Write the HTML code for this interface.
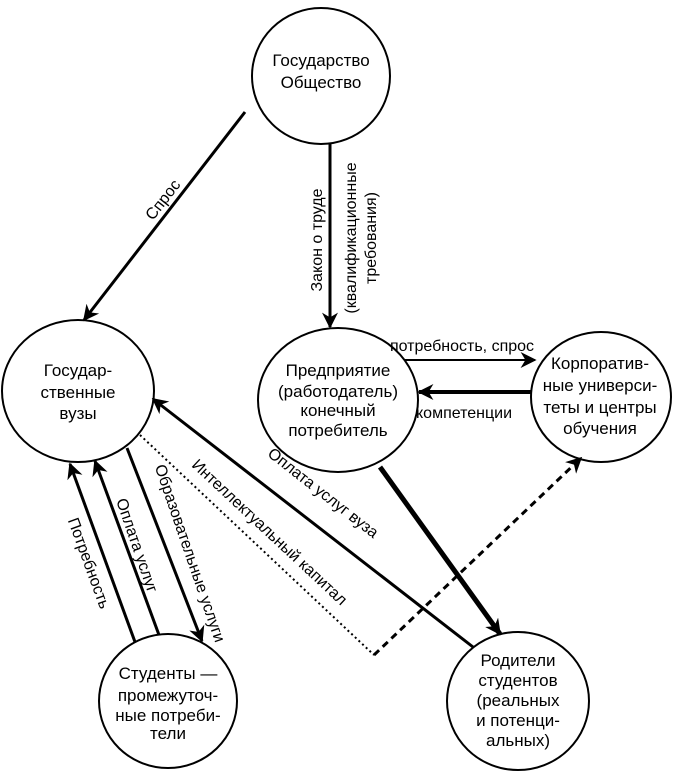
<!DOCTYPE html>
<html><head><meta charset="utf-8"><style>html,body{margin:0;padding:0;background:#fff}</style></head>
<body>
<svg width="674" height="778" viewBox="0 0 674 778" xmlns="http://www.w3.org/2000/svg" font-family="Liberation Sans, Arial, sans-serif" font-size="15" fill="#000">
<defs>
<marker id="b" viewBox="0 0 10 10" refX="9" refY="5" markerWidth="18" markerHeight="16" orient="auto" markerUnits="userSpaceOnUse"><path d="M0,0 L10,5 L0,10 L3,5 z"/></marker>
</defs>
<g fill="none" stroke="#000" stroke-width="2">
<ellipse cx="321" cy="76" rx="69" ry="68"/>
<ellipse cx="78" cy="391" rx="76" ry="71"/>
<ellipse cx="338" cy="400" rx="80" ry="72"/>
<ellipse cx="601" cy="397" rx="70" ry="65"/>
<ellipse cx="168" cy="701" rx="69" ry="67"/>
<ellipse cx="518" cy="701" rx="71" ry="69"/>
</g>
<g stroke="#000" fill="none">
<line x1="245" y1="112" x2="84" y2="320" stroke-width="3" marker-end="url(#b)"/>
<line x1="330" y1="143" x2="330" y2="327" stroke-width="3" marker-end="url(#b)"/>
<line x1="405" y1="360" x2="535" y2="360" stroke-width="2" marker-end="url(#b)"/>
<line x1="531" y1="392" x2="419" y2="392" stroke-width="4" marker-end="url(#b)"/>
<line x1="135" y1="642" x2="70" y2="464" stroke-width="3" marker-end="url(#b)"/>
<line x1="159" y1="635" x2="95" y2="461" stroke-width="3" marker-end="url(#b)"/>
<line x1="127" y1="448" x2="202" y2="641" stroke-width="3" marker-end="url(#b)"/>
<line x1="140" y1="435" x2="374" y2="655" stroke-width="2" stroke-dasharray="2,3"/>
<line x1="374" y1="655" x2="581" y2="458" stroke-width="3" stroke-dasharray="7,5" marker-end="url(#b)"/>
<line x1="473" y1="647" x2="153" y2="399" stroke-width="3" marker-end="url(#b)"/>
<line x1="380" y1="467" x2="500" y2="634" stroke-width="5" marker-end="url(#b)"/>
</g>
<g text-anchor="middle" font-size="17">
<text x="321" y="66">Государство</text>
<text x="321" y="88">Общество</text>
<text x="78" y="376">Государ-</text>
<text x="78" y="398">ственные</text>
<text x="78" y="419">вузы</text>
<text x="338" y="376">Предприятие</text>
<text x="338" y="397">(работодатель)</text>
<text x="338" y="416">конечный</text>
<text x="338" y="436">потребитель</text>
<text x="600" y="369">Корпоратив-</text>
<text x="600" y="391">ные универси-</text>
<text x="600" y="413">теты и центры</text>
<text x="600" y="434">обучения</text>
<text x="168" y="679">Студенты —</text>
<text x="168" y="701">промежуточ-</text>
<text x="168" y="721">ные потреби-</text>
<text x="168" y="739">тели</text>
<text x="518" y="666">Родители</text>
<text x="518" y="686">студентов</text>
<text x="518" y="706">(реальных</text>
<text x="518" y="726">и потенци-</text>
<text x="518" y="746">альных)</text>
</g>
<g text-anchor="middle" font-size="16">
<text x="462" y="351">потребность, спрос</text>
<text x="464" y="418">компетенции</text>
<text transform="translate(167,203) rotate(-52)">Спрос</text>
<text transform="translate(322,240) rotate(-90)">Закон о труде</text>
<text transform="translate(356,238) rotate(-90)">(квалификационные</text>
<text transform="translate(376,238) rotate(-90)">требования)</text>
<text transform="translate(84,565) rotate(70)">Потребность</text>
<text transform="translate(132,547) rotate(71)">Оплата услуг</text>
<text transform="translate(185,555) rotate(71)">Образовательные услуги</text>
<text transform="translate(266,536) rotate(43)">Интеллектуальный капитал</text>
<text transform="translate(320,497) rotate(38)">Оплата услуг вуза</text>
</g>
</svg>
</body></html>
